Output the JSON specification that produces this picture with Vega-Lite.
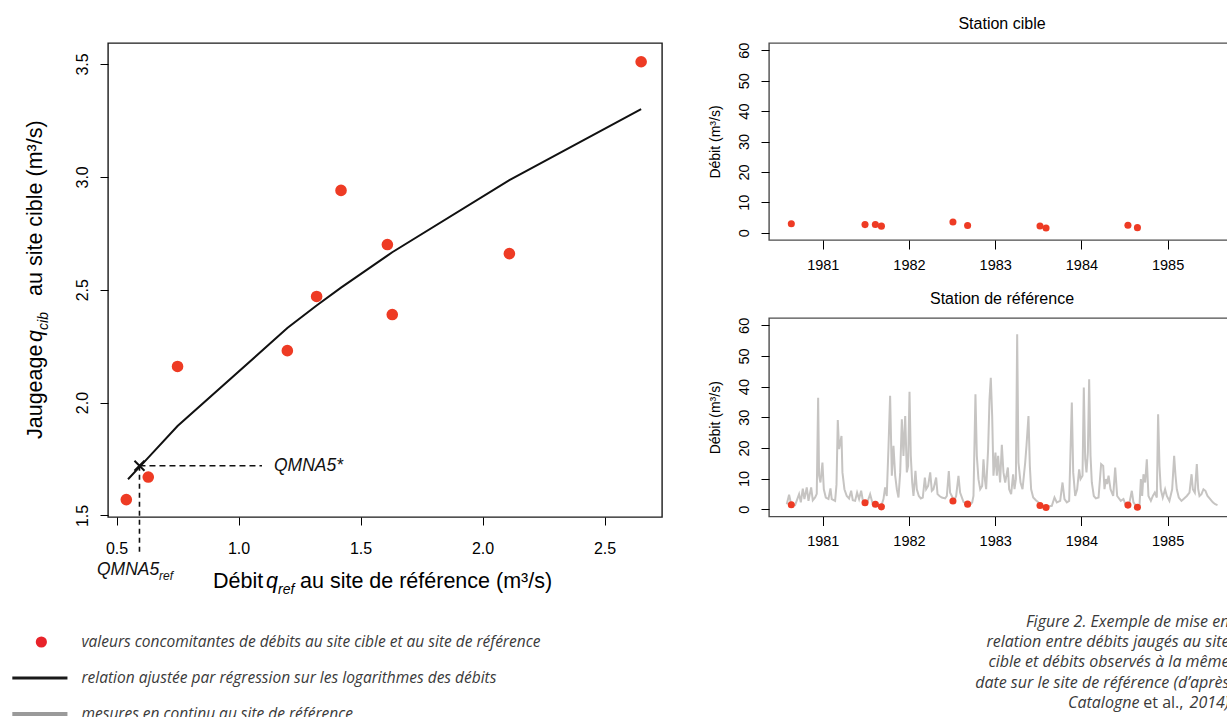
{
  "$schema": "https://vega.github.io/schema/vega-lite/v6.json",
  "padding": {"left": 10, "top": 15, "right": 0, "bottom": 0},
  "background": "white",
  "datasets": {
    "jaugeages": [
      {"date": 1980.635, "qref": 1.42, "qcib": 2.94},
      {"date": 1981.49, "qref": 2.11, "qcib": 2.66},
      {"date": 1981.61, "qref": 1.61, "qcib": 2.70},
      {"date": 1981.68, "qref": 0.75, "qcib": 2.16},
      {"date": 1982.51, "qref": 2.65, "qcib": 3.51},
      {"date": 1982.68, "qref": 1.63, "qcib": 2.39},
      {"date": 1983.52, "qref": 1.20, "qcib": 2.23},
      {"date": 1983.59, "qref": 0.54, "qcib": 1.57},
      {"date": 1984.54, "qref": 1.32, "qcib": 2.47},
      {"date": 1984.65, "qref": 0.63, "qcib": 1.67}
    ],
    "regression": [
      {"qref": 0.547, "qcib": 1.66},
      {"qref": 0.63, "qcib": 1.756},
      {"qref": 0.75, "qcib": 1.896},
      {"qref": 1.20, "qcib": 2.330},
      {"qref": 1.32, "qcib": 2.430},
      {"qref": 1.42, "qcib": 2.509},
      {"qref": 1.61, "qcib": 2.651},
      {"qref": 1.63, "qcib": 2.666},
      {"qref": 2.11, "qcib": 2.985},
      {"qref": 2.65, "qcib": 3.300}
    ],
    "qmna5": [{"qref": 0.594, "qcib": 1.72}],
    "reference": [
      {"date": 1980.582, "debit": 1.6}, {"date": 1980.609, "debit": 4.7}, {"date": 1980.633, "debit": 1.6}, {"date": 1980.679, "debit": 1.3},
      {"date": 1980.725, "debit": 4.9}, {"date": 1980.745, "debit": 2.2}, {"date": 1980.768, "debit": 6.7}, {"date": 1980.787, "debit": 3.3},
      {"date": 1980.814, "debit": 7.1}, {"date": 1980.834, "debit": 2.7}, {"date": 1980.865, "debit": 7.1}, {"date": 1980.884, "debit": 2.9},
      {"date": 1980.911, "debit": 3.8}, {"date": 1980.930, "debit": 5.0}, {"date": 1980.946, "debit": 36.4}, {"date": 1980.957, "debit": 10.9},
      {"date": 1980.973, "debit": 8.7}, {"date": 1980.996, "debit": 15.2}, {"date": 1981.012, "debit": 6.5}, {"date": 1981.035, "debit": 3.8},
      {"date": 1981.066, "debit": 3.3}, {"date": 1981.089, "debit": 6.8}, {"date": 1981.104, "debit": 3.3}, {"date": 1981.143, "debit": 2.7},
      {"date": 1981.159, "debit": 8.0}, {"date": 1981.174, "debit": 29.1}, {"date": 1981.189, "debit": 19.6}, {"date": 1981.217, "debit": 23.9},
      {"date": 1981.228, "debit": 12.0}, {"date": 1981.251, "debit": 6.5}, {"date": 1981.278, "debit": 4.3}, {"date": 1981.305, "debit": 3.5},
      {"date": 1981.329, "debit": 6.0}, {"date": 1981.348, "debit": 2.9}, {"date": 1981.375, "debit": 2.7}, {"date": 1981.398, "debit": 5.4},
      {"date": 1981.421, "debit": 3.3}, {"date": 1981.445, "debit": 6.0}, {"date": 1981.464, "debit": 2.9}, {"date": 1981.491, "debit": 2.2},
      {"date": 1981.514, "debit": 2.0}, {"date": 1981.549, "debit": 4.9}, {"date": 1981.576, "debit": 2.0}, {"date": 1981.599, "debit": 2.2},
      {"date": 1981.630, "debit": 1.3}, {"date": 1981.677, "debit": 0.9}, {"date": 1981.704, "debit": 3.3}, {"date": 1981.723, "debit": 7.1},
      {"date": 1981.742, "debit": 4.3}, {"date": 1981.762, "debit": 20.1}, {"date": 1981.781, "debit": 37.0}, {"date": 1981.801, "debit": 10.9},
      {"date": 1981.820, "debit": 20.7}, {"date": 1981.840, "debit": 10.9}, {"date": 1981.859, "debit": 6.5}, {"date": 1981.878, "debit": 3.8},
      {"date": 1981.898, "debit": 12.0}, {"date": 1981.917, "debit": 29.3}, {"date": 1981.936, "debit": 17.4}, {"date": 1981.956, "debit": 30.4},
      {"date": 1981.975, "debit": 12.0}, {"date": 1981.990, "debit": 14.1}, {"date": 1982.006, "debit": 38.3}, {"date": 1982.021, "debit": 17.4},
      {"date": 1982.037, "debit": 8.7}, {"date": 1982.052, "debit": 4.3}, {"date": 1982.075, "debit": 12.5}, {"date": 1982.091, "debit": 6.5},
      {"date": 1982.114, "debit": 4.3}, {"date": 1982.137, "debit": 3.5}, {"date": 1982.160, "debit": 3.8}, {"date": 1982.184, "debit": 10.3},
      {"date": 1982.199, "debit": 6.5}, {"date": 1982.222, "debit": 7.6}, {"date": 1982.246, "debit": 12.0}, {"date": 1982.265, "debit": 6.0},
      {"date": 1982.284, "debit": 6.5}, {"date": 1982.315, "debit": 10.3}, {"date": 1982.331, "debit": 4.9}, {"date": 1982.354, "debit": 4.3},
      {"date": 1982.381, "debit": 3.8}, {"date": 1982.419, "debit": 3.5}, {"date": 1982.439, "debit": 4.3}, {"date": 1982.462, "debit": 12.4},
      {"date": 1982.477, "debit": 5.4}, {"date": 1982.497, "debit": 4.3}, {"date": 1982.524, "debit": 2.7}, {"date": 1982.547, "debit": 4.3},
      {"date": 1982.574, "debit": 10.9}, {"date": 1982.593, "debit": 5.4}, {"date": 1982.632, "debit": 2.4}, {"date": 1982.671, "debit": 1.6},
      {"date": 1982.702, "debit": 1.3}, {"date": 1982.733, "debit": 2.2}, {"date": 1982.748, "debit": 4.3}, {"date": 1982.771, "debit": 37.5},
      {"date": 1982.787, "debit": 17.4}, {"date": 1982.806, "debit": 9.8}, {"date": 1982.826, "debit": 6.5}, {"date": 1982.849, "debit": 7.6},
      {"date": 1982.864, "debit": 16.3}, {"date": 1982.880, "debit": 9.8}, {"date": 1982.895, "debit": 6.5}, {"date": 1982.918, "debit": 19.6},
      {"date": 1982.934, "debit": 35.9}, {"date": 1982.949, "debit": 42.9}, {"date": 1982.965, "debit": 30.4}, {"date": 1982.980, "debit": 10.9},
      {"date": 1983.003, "debit": 18.5}, {"date": 1983.019, "debit": 10.9}, {"date": 1983.034, "debit": 17.4}, {"date": 1983.057, "debit": 8.7},
      {"date": 1983.077, "debit": 21.0}, {"date": 1983.096, "debit": 12.0}, {"date": 1983.116, "debit": 8.7}, {"date": 1983.147, "debit": 13.6},
      {"date": 1983.162, "debit": 6.5}, {"date": 1983.185, "debit": 4.9}, {"date": 1983.208, "debit": 11.4}, {"date": 1983.224, "debit": 6.5},
      {"date": 1983.240, "debit": 9.8}, {"date": 1983.255, "debit": 57.1}, {"date": 1983.270, "debit": 15.2}, {"date": 1983.294, "debit": 8.7},
      {"date": 1983.317, "debit": 6.5}, {"date": 1983.348, "debit": 15.2}, {"date": 1983.363, "debit": 20.7}, {"date": 1983.386, "debit": 30.4},
      {"date": 1983.402, "debit": 14.1}, {"date": 1983.417, "debit": 6.5}, {"date": 1983.441, "debit": 3.8}, {"date": 1983.472, "debit": 2.9},
      {"date": 1983.502, "debit": 2.2}, {"date": 1983.525, "debit": 1.3}, {"date": 1983.560, "debit": 0.9}, {"date": 1983.599, "debit": 0.8},
      {"date": 1983.657, "debit": 1.1}, {"date": 1983.688, "debit": 3.8}, {"date": 1983.715, "debit": 2.2}, {"date": 1983.754, "debit": 2.7},
      {"date": 1983.781, "debit": 8.7}, {"date": 1983.804, "debit": 3.3}, {"date": 1983.831, "debit": 2.2}, {"date": 1983.858, "debit": 2.7},
      {"date": 1983.889, "debit": 34.8}, {"date": 1983.905, "debit": 12.0}, {"date": 1983.928, "debit": 4.3}, {"date": 1983.951, "debit": 6.5},
      {"date": 1983.974, "debit": 13.0}, {"date": 1983.990, "debit": 9.8}, {"date": 1984.013, "debit": 10.9}, {"date": 1984.028, "debit": 39.7},
      {"date": 1984.044, "debit": 16.3}, {"date": 1984.059, "debit": 12.0}, {"date": 1984.075, "debit": 18.5}, {"date": 1984.090, "debit": 42.4},
      {"date": 1984.106, "debit": 17.4}, {"date": 1984.121, "debit": 8.7}, {"date": 1984.144, "debit": 4.3}, {"date": 1984.168, "debit": 3.5},
      {"date": 1984.199, "debit": 3.8}, {"date": 1984.229, "debit": 14.7}, {"date": 1984.253, "debit": 14.1}, {"date": 1984.268, "debit": 6.5},
      {"date": 1984.284, "debit": 9.8}, {"date": 1984.299, "debit": 8.2}, {"date": 1984.315, "debit": 10.9}, {"date": 1984.338, "debit": 6.5},
      {"date": 1984.369, "debit": 4.3}, {"date": 1984.392, "debit": 13.6}, {"date": 1984.415, "debit": 4.3}, {"date": 1984.457, "debit": 2.7},
      {"date": 1984.488, "debit": 3.3}, {"date": 1984.511, "debit": 1.6}, {"date": 1984.535, "debit": 1.6}, {"date": 1984.558, "debit": 2.2},
      {"date": 1984.585, "debit": 6.0}, {"date": 1984.604, "debit": 2.2}, {"date": 1984.627, "debit": 1.3}, {"date": 1984.651, "debit": 0.9},
      {"date": 1984.674, "debit": 1.1}, {"date": 1984.690, "debit": 9.8}, {"date": 1984.705, "debit": 4.3}, {"date": 1984.720, "debit": 11.4},
      {"date": 1984.740, "debit": 8.7}, {"date": 1984.759, "debit": 16.3}, {"date": 1984.778, "debit": 4.3}, {"date": 1984.806, "debit": 2.7},
      {"date": 1984.829, "debit": 4.3}, {"date": 1984.852, "debit": 5.4}, {"date": 1984.875, "debit": 3.8}, {"date": 1984.890, "debit": 31.0},
      {"date": 1984.906, "debit": 14.1}, {"date": 1984.921, "debit": 6.5}, {"date": 1984.944, "debit": 3.8}, {"date": 1984.971, "debit": 6.5},
      {"date": 1984.991, "debit": 4.3}, {"date": 1985.021, "debit": 2.7}, {"date": 1985.053, "debit": 6.5}, {"date": 1985.076, "debit": 17.4},
      {"date": 1985.092, "debit": 10.9}, {"date": 1985.107, "debit": 6.5}, {"date": 1985.130, "debit": 3.8}, {"date": 1985.161, "debit": 2.7},
      {"date": 1985.192, "debit": 3.5}, {"date": 1985.223, "debit": 4.3}, {"date": 1985.254, "debit": 5.4}, {"date": 1985.278, "debit": 11.4},
      {"date": 1985.293, "debit": 6.5}, {"date": 1985.316, "debit": 5.4}, {"date": 1985.339, "debit": 14.7}, {"date": 1985.355, "debit": 6.5},
      {"date": 1985.370, "debit": 4.3}, {"date": 1985.393, "debit": 4.9}, {"date": 1985.416, "debit": 6.5}, {"date": 1985.439, "debit": 6.0},
      {"date": 1985.463, "debit": 4.3}, {"date": 1985.494, "debit": 3.3}, {"date": 1985.525, "debit": 2.2}, {"date": 1985.552, "debit": 1.6},
      {"date": 1985.579, "debit": 1.3}
    ],
    "legende": [
      {"rang": 1, "type": "point", "libelle": "valeurs concomitantes de débits au site cible et au site de référence"},
      {"rang": 2, "type": "ajustement", "libelle": "relation ajustée par régression sur les logarithmes des débits"},
      {"rang": 3, "type": "continu", "libelle": "mesures en continu au site de référence"}
    ],
    "legende_figure": [
      {"ligne": 1, "partie": "corps", "texte": "Figure 2. Exemple de mise en"},
      {"ligne": 2, "partie": "corps", "texte": "relation entre débits jaugés au site"},
      {"ligne": 3, "partie": "corps", "texte": "cible et débits observés à la même"},
      {"ligne": 4, "partie": "corps", "texte": "date sur le site de référence (d’après"},
      {"ligne": 5, "partie": "auteur", "texte": "Catalogne"},
      {"ligne": 5, "partie": "etal", "texte": "et al.,"},
      {"ligne": 5, "partie": "annee", "texte": "2014)"}
    ]
  },
  "spacing": 44,
  "hconcat": [
    {
      "bounds": "flush",
      "spacing": 100,
      "vconcat": [
        {
          "width": 554,
          "height": 474,
          "title": {"text": " "},
          "view": {"stroke": "#1a1a1a", "strokeWidth": 1.4},
          "encoding": {
            "x": {"field": "qref", "type": "quantitative", "scale": {"domain": [0.465, 2.7355], "nice": false, "zero": false},
                  "axis": {"values": [0.5, 1, 1.5, 2, 2.5], "format": ".1f", "title": null, "tickSize": 8, "labelFontSize": 16, "labelPadding": 15}},
            "y": {"field": "qcib", "type": "quantitative", "scale": {"domain": [1.493, 3.593], "nice": false, "zero": false},
                  "axis": {"values": [1.5, 2, 2.5, 3, 3.5], "format": ".1f", "title": null, "tickSize": 8, "labelFontSize": 16, "labelAngle": 270, "labelAlign": "center", "labelBaseline": "bottom", "labelPadding": 10}}
          },
          "layer": [
            {"data": {"name": "regression"}, "mark": {"type": "line", "color": "#111111", "strokeWidth": 2}},
            {"data": {"name": "jaugeages"}, "mark": {"type": "point", "filled": true, "color": "#EE3B24", "size": 135, "opacity": 1}},
            {"data": {"name": "qmna5"}, "mark": {"type": "rule", "color": "#111111", "strokeWidth": 1.6, "strokeDash": [6, 4]},
             "encoding": {"x2": {"datum": 1.0961}}},
            {"data": {"name": "qmna5"}, "mark": {"type": "rule", "color": "#111111", "strokeWidth": 1.6, "strokeDash": [5, 4]},
             "encoding": {"y2": {"datum": 1.3334}}},
            {"data": {"name": "qmna5"}, "mark": {"type": "point", "shape": "M-1,-1L1,1M-1,1L1,-1", "filled": false, "color": "#111111", "strokeWidth": 2, "size": 100, "opacity": 1}},
            {"data": {"name": "qmna5"}, "mark": {"type": "text", "align": "left", "baseline": "middle", "fontStyle": "italic", "fontSize": 17.5, "color": "#111111"},
             "encoding": {"x": {"datum": 1.1453, "type": "quantitative"}, "text": {"value": "QMNA5*"}}},
            {"data": {"name": "qmna5"}, "mark": {"type": "text", "align": "left", "baseline": "alphabetic", "fontStyle": "italic", "fontSize": 17.5, "color": "#111111"},
             "encoding": {"x": {"datum": 0.4199, "type": "quantitative"}, "y": {"datum": 1.2359, "type": "quantitative"}, "text": {"value": "QMNA5"}}},
            {"data": {"name": "qmna5"}, "mark": {"type": "text", "align": "left", "baseline": "alphabetic", "fontStyle": "italic", "fontSize": 12, "dy": 5, "color": "#111111"},
             "encoding": {"x": {"datum": 0.674, "type": "quantitative"}, "y": {"datum": 1.2359, "type": "quantitative"}, "text": {"value": "ref"}}},
            {"data": {"name": "qmna5"}, "mark": {"type": "text", "align": "left", "baseline": "alphabetic", "fontSize": 21.5, "color": "#000000"},
             "encoding": {"x": {"datum": 0.8953, "type": "quantitative"}, "y": {"datum": 1.1783, "type": "quantitative"}, "text": {"value": "Débit"}}},
            {"data": {"name": "qmna5"}, "mark": {"type": "text", "align": "left", "baseline": "alphabetic", "fontSize": 21.5, "fontStyle": "italic", "color": "#000000"},
             "encoding": {"x": {"datum": 1.1125, "type": "quantitative"}, "y": {"datum": 1.1783, "type": "quantitative"}, "text": {"value": "q"}}},
            {"data": {"name": "qmna5"}, "mark": {"type": "text", "align": "left", "baseline": "alphabetic", "fontSize": 14, "fontStyle": "italic", "dy": 6, "color": "#000000"},
             "encoding": {"x": {"datum": 1.1617, "type": "quantitative"}, "y": {"datum": 1.1783, "type": "quantitative"}, "text": {"value": "ref"}}},
            {"data": {"name": "qmna5"}, "mark": {"type": "text", "align": "left", "baseline": "alphabetic", "fontSize": 21.5, "color": "#000000"},
             "encoding": {"x": {"datum": 1.2519, "type": "quantitative"}, "y": {"datum": 1.1783, "type": "quantitative"}, "text": {"value": "au site de référence (m³/s)"}}},
            {"data": {"name": "qmna5"}, "mark": {"type": "text", "align": "left", "baseline": "alphabetic", "angle": 270, "fontSize": 21.5, "color": "#000000"},
             "encoding": {"x": {"datum": 0.1925, "type": "quantitative"}, "y": {"datum": 1.8385, "type": "quantitative"}, "text": {"value": "Jaugeage"}}},
            {"data": {"name": "qmna5"}, "mark": {"type": "text", "align": "left", "baseline": "alphabetic", "angle": 270, "fontSize": 21.5, "fontStyle": "italic", "color": "#000000"},
             "encoding": {"x": {"datum": 0.1925, "type": "quantitative"}, "y": {"datum": 2.268, "type": "quantitative"}, "text": {"value": "q"}}},
            {"data": {"name": "qmna5"}, "mark": {"type": "text", "align": "left", "baseline": "alphabetic", "angle": 270, "fontSize": 14, "fontStyle": "italic", "dy": 6, "color": "#000000"},
             "encoding": {"x": {"datum": 0.1925, "type": "quantitative"}, "y": {"datum": 2.322, "type": "quantitative"}, "text": {"value": "cib"}}},
            {"data": {"name": "qmna5"}, "mark": {"type": "text", "align": "left", "baseline": "alphabetic", "angle": 270, "fontSize": 21.5, "color": "#000000"},
             "encoding": {"x": {"datum": 0.1925, "type": "quantitative"}, "y": {"datum": 2.4721, "type": "quantitative"}, "text": {"value": "au site cible (m³/s)"}}}
          ]
        },
        {
          "width": 554,
          "height": 108,
          "view": {"stroke": null},
          "data": {"name": "legende"},
          "encoding": {
            "y": {"field": "rang", "type": "quantitative", "scale": {"domain": [0.306, 3.306], "reverse": true, "nice": false, "zero": false}, "axis": null}
          },
          "layer": [
            {"mark": {"type": "text", "align": "left", "baseline": "middle", "font": "Open Sans", "fontStyle": "italic", "fontWeight": 400, "fontSize": 15.5, "color": "#3a3a3a"},
             "encoding": {"x": {"datum": -0.0479, "type": "quantitative", "scale": {"domain": [0, 1], "nice": false, "zero": false}, "axis": null}, "text": {"field": "libelle"}}},
            {"transform": [{"filter": "datum.type === 'point'"}],
             "mark": {"type": "point", "filled": true, "color": "#E8232A", "size": 125, "opacity": 1},
             "encoding": {"x": {"datum": -0.1203, "type": "quantitative"}}},
            {"transform": [{"filter": "datum.type === 'ajustement'"}],
             "mark": {"type": "rule", "color": "#1a1a1a", "strokeWidth": 3},
             "encoding": {"x": {"datum": -0.1727, "type": "quantitative"}, "x2": {"datum": -0.0732}}},
            {"transform": [{"filter": "datum.type === 'continu'"}],
             "mark": {"type": "rule", "color": "#9a9a9a", "strokeWidth": 4},
             "encoding": {"x": {"datum": -0.1727, "type": "quantitative"}, "x2": {"datum": -0.0732}}}
          ]
        }
      ]
    },
    {
      "bounds": "flush",
      "spacing": 78,
      "vconcat": [
        {
          "width": 466,
          "height": 197,
          "title": {"text": "Station cible"},
          "view": {"stroke": "#4d4d4d", "strokeWidth": 1.4},
          "data": {"name": "jaugeages"},
          "mark": {"type": "point", "filled": true, "color": "#EE3B24", "size": 50, "opacity": 1},
          "encoding": {
            "x": {"field": "date", "type": "quantitative", "scale": {"domain": [1980.376, 1985.782], "nice": false, "zero": false},
                  "axis": {"values": [1981, 1982, 1983, 1984, 1985], "format": "d", "title": null, "tickSize": 9, "labelFontSize": 14.5, "labelPadding": 9}},
            "y": {"field": "qcib", "type": "quantitative", "scale": {"domain": [-2.4, 62.4], "nice": false, "zero": false},
                  "axis": {"values": [0, 10, 20, 30, 40, 50, 60], "format": "d", "title": "Débit (m³/s)", "titleFontSize": 14, "titlePadding": 14, "tickSize": 8, "labelFontSize": 14.5, "labelAngle": 270, "labelAlign": "center", "labelBaseline": "bottom", "labelPadding": 10}}
          }
        },
        {
          "width": 466,
          "height": 198.5,
          "title": {"text": "Station de référence"},
          "view": {"stroke": "#4d4d4d", "strokeWidth": 1.4},
          "layer": [
            {"data": {"name": "reference"}, "mark": {"type": "line", "color": "#C6C4C2", "strokeWidth": 2},
             "encoding": {
               "x": {"field": "date", "type": "quantitative", "scale": {"domain": [1980.376, 1985.782], "nice": false, "zero": false},
                     "axis": {"values": [1981, 1982, 1983, 1984, 1985], "format": "d", "title": null, "tickSize": 9, "labelFontSize": 14.5, "labelPadding": 9}},
               "y": {"field": "debit", "type": "quantitative", "scale": {"domain": [-2.4, 62.4], "nice": false, "zero": false},
                     "axis": {"values": [0, 10, 20, 30, 40, 50, 60], "format": "d", "title": "Débit (m³/s)", "titleFontSize": 14, "titlePadding": 14, "tickSize": 8, "labelFontSize": 14.5, "labelAngle": 270, "labelAlign": "center", "labelBaseline": "bottom", "labelPadding": 10}}
             }},
            {"data": {"name": "jaugeages"}, "mark": {"type": "point", "filled": true, "color": "#EE3B24", "size": 50, "opacity": 1},
             "encoding": {
               "x": {"field": "date", "type": "quantitative", "scale": {"domain": [1980.376, 1985.782], "nice": false, "zero": false},
                     "axis": {"values": [1981, 1982, 1983, 1984, 1985], "format": "d", "title": null, "tickSize": 9, "labelFontSize": 14.5, "labelPadding": 9}},
               "y": {"field": "qref", "type": "quantitative", "scale": {"domain": [-2.4, 62.4], "nice": false, "zero": false},
                     "axis": {"values": [0, 10, 20, 30, 40, 50, 60], "format": "d", "title": "Débit (m³/s)", "titleFontSize": 14, "titlePadding": 14, "tickSize": 8, "labelFontSize": 14.5, "labelAngle": 270, "labelAlign": "center", "labelBaseline": "bottom", "labelPadding": 10}}
             }}
          ]
        },
        {
          "width": 466,
          "height": 120,
          "view": {"stroke": null},
          "data": {"name": "legende_figure"},
          "encoding": {
            "x": {"datum": 0.988, "type": "quantitative", "scale": {"domain": [0, 1], "nice": false, "zero": false}, "axis": null},
            "y": {"field": "ligne", "type": "quantitative", "scale": {"domain": [-0.3, 5.583], "reverse": true, "nice": false, "zero": false}, "axis": null},
            "text": {"field": "texte"}
          },
          "layer": [
            {"transform": [{"filter": "datum.partie === 'corps'"}],
             "mark": {"type": "text", "align": "right", "baseline": "middle", "font": "Open Sans", "fontStyle": "italic", "fontWeight": 400, "fontSize": 16, "color": "#3a3a3a"}},
            {"transform": [{"filter": "datum.partie === 'annee'"}],
             "mark": {"type": "text", "align": "right", "baseline": "middle", "font": "Open Sans", "fontStyle": "italic", "fontWeight": 400, "fontSize": 16, "color": "#3a3a3a"}},
            {"transform": [{"filter": "datum.partie === 'etal'"}],
             "mark": {"type": "text", "align": "right", "baseline": "middle", "font": "Open Sans", "fontStyle": "normal", "fontWeight": 400, "fontSize": 16, "color": "#3a3a3a", "dx": -46}},
            {"transform": [{"filter": "datum.partie === 'auteur'"}],
             "mark": {"type": "text", "align": "right", "baseline": "middle", "font": "Open Sans", "fontStyle": "italic", "fontWeight": 400, "fontSize": 16, "color": "#3a3a3a", "dx": -90}}
          ]
        }
      ]
    }
  ],
  "config": {
    "font": "Liberation Sans",
    "view": {"stroke": null},
    "axis": {"domain": false, "grid": false, "ticks": true, "tickColor": "#000000", "tickWidth": 1, "labelColor": "#000000", "labelFont": "Liberation Sans", "titleFont": "Liberation Sans", "titleFontWeight": "normal", "titleColor": "#000000", "labelOverlap": false, "labelFlush": false},
    "title": {"font": "Liberation Sans", "fontSize": 16, "fontWeight": "normal", "color": "#000000", "anchor": "middle", "offset": 10},
    "text": {"font": "Liberation Sans"}
  }
}
